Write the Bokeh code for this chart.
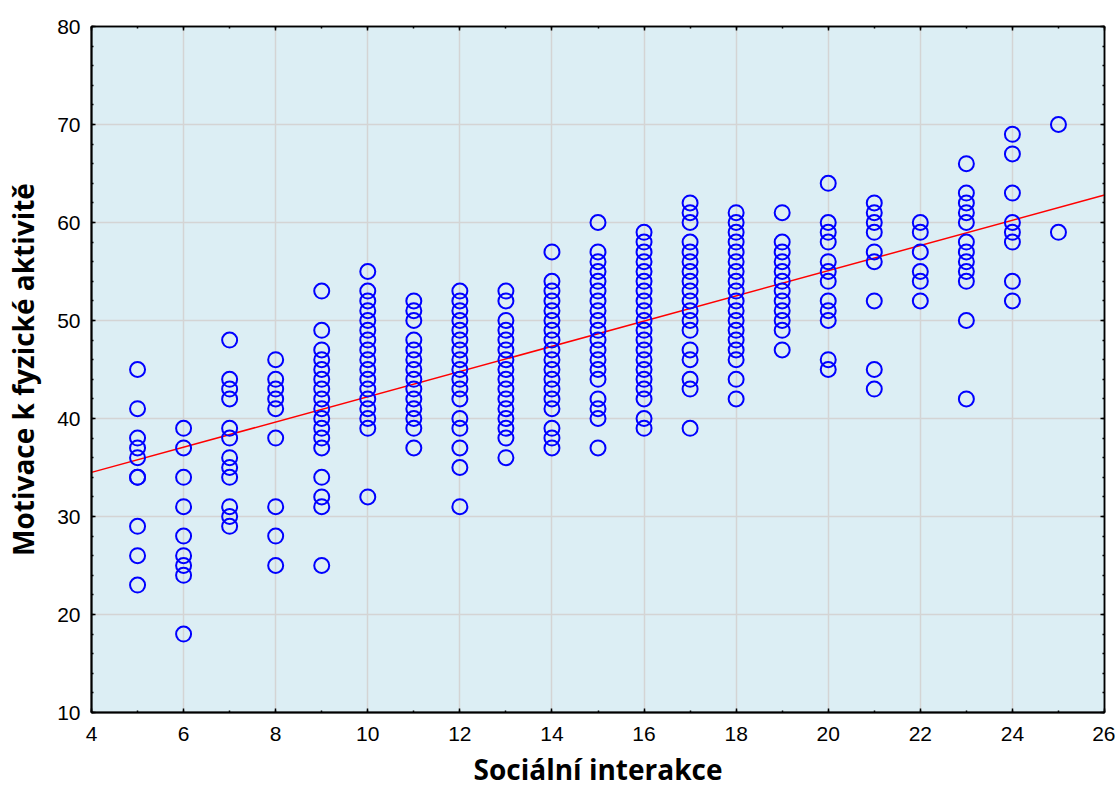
from bokeh.plotting import figure
from bokeh.models import LinearAxis, Range1d, FixedTicker, CustomJSTickFormatter
from bokeh.embed import file_html
from bokeh.resources import INLINE

# ---- data ----
y_at_5 = [45, 41, 38, 37, 36, 34, 34, 29, 26, 23]
y_at_6 = [39, 37, 34, 31, 28, 26, 25, 24, 18]
y_at_7 = [48, 44, 43, 42, 39, 38, 36, 35, 34, 31, 30, 29]
y_at_8 = [46, 44, 43, 42, 41, 38, 31, 28, 25]
y_at_9 = [53, 49, 47, 46, 45, 44, 43, 42, 41, 40, 39, 38, 37, 34, 32, 31, 25]
y_at_10 = [55, 53, 52, 51, 50, 49, 48, 47, 46, 45, 44, 43, 42, 41, 40, 39, 32]
y_at_11 = [52, 51, 50, 48, 47, 46, 45, 44, 43, 42, 41, 40, 39, 37]
y_at_12 = [53, 52, 51, 50, 49, 48, 47, 46, 45, 44, 43, 42, 40, 39, 37, 35, 31]
y_at_13 = [53, 52, 50, 49, 48, 47, 46, 45, 44, 43, 42, 41, 40, 39, 38, 36]
y_at_14 = [57, 54, 53, 52, 51, 50, 49, 48, 47, 46, 45, 44, 43, 42, 41, 39, 38, 37]
y_at_15 = [60, 57, 56, 55, 54, 53, 52, 51, 50, 49, 48, 47, 46, 45, 44, 42, 41, 40, 37]
y_at_16 = [59, 58, 57, 56, 55, 54, 53, 52, 51, 50, 49, 48, 47, 46, 45, 44, 43, 42, 40, 39]
y_at_17 = [62, 61, 60, 58, 57, 56, 55, 54, 53, 52, 51, 50, 49, 47, 46, 44, 43, 39]
y_at_18 = [61, 60, 59, 58, 57, 56, 55, 54, 53, 52, 51, 50, 49, 48, 47, 46, 44, 42]
y_at_19 = [61, 58, 57, 56, 55, 54, 53, 52, 51, 50, 49, 47]
y_at_20 = [64, 60, 59, 58, 56, 55, 54, 52, 51, 50, 46, 45]
y_at_21 = [62, 61, 60, 59, 57, 56, 52, 45, 43]
y_at_22 = [60, 59, 57, 55, 54, 52]
y_at_23 = [66, 63, 62, 61, 60, 58, 57, 56, 55, 54, 50, 42]
y_at_24 = [69, 67, 63, 60, 59, 58, 54, 52]
y_at_25 = [70, 59]

x_values = list(range(5, 26))
columns = [y_at_5, y_at_6, y_at_7, y_at_8, y_at_9, y_at_10, y_at_11, y_at_12,
           y_at_13, y_at_14, y_at_15, y_at_16, y_at_17, y_at_18, y_at_19,
           y_at_20, y_at_21, y_at_22, y_at_23, y_at_24, y_at_25]

# fitted regression line
fit_x = [4, 26]
fit_y = [34.5, 62.8]

x_ticks = [4, 6, 8, 10, 12, 14, 16, 18, 20, 22, 24, 26]
y_ticks = [10, 20, 30, 40, 50, 60, 70, 80]
x_minor = list(range(4, 27))
y_minor = list(range(10, 81, 2))

xs, ys = [], []
for xv, col in zip(x_values, columns):
    xs.extend([xv] * len(col))
    ys.extend(col)

# ---- figure ----
p = figure(width=1115, height=791, output_backend="svg", toolbar_location=None,
           x_range=Range1d(4, 26), y_range=Range1d(10, 80),
           min_border_left=91, min_border_right=11, min_border_top=26,
           min_border_bottom=79)

p.background_fill_color = "#DCEEF4"
p.border_fill_color = "white"
p.outline_line_color = "black"
p.outline_line_width = 1.5

p.xgrid.ticker = FixedTicker(ticks=x_ticks)
p.ygrid.ticker = FixedTicker(ticks=y_ticks)
for g in (p.xgrid, p.ygrid):
    g.grid_line_color = "#D4D4D4"
    g.grid_line_width = 1.5

label_font = "Open Sans"
tick_font = "Liberation Sans"

xa = p.xaxis[0]
ya = p.yaxis[0]
xa.ticker = FixedTicker(ticks=x_ticks, minor_ticks=x_minor)
ya.ticker = FixedTicker(ticks=y_ticks, minor_ticks=y_minor)
xa.axis_label = "Sociální interakce"
ya.axis_label = "Motivace k fyzické aktivitě"
for a in (xa, ya):
    a.axis_line_color = "black"
    a.axis_line_width = 2
    a.major_tick_in = 4
    a.major_tick_out = 0
    a.minor_tick_in = 2
    a.minor_tick_out = 0
    a.major_tick_line_color = "black"
    a.minor_tick_line_color = "black"
    a.major_tick_line_width = 1.5
    a.minor_tick_line_width = 1.5
    a.major_label_text_font = tick_font
    a.major_label_text_font_size = "21px"
    a.major_label_text_color = "black"
    a.axis_label_text_font = label_font
    a.axis_label_text_font_style = "bold"
    a.axis_label_text_font_size = "28px"
    a.axis_label_text_color = "black"
xa.major_label_standoff = 14
xa.axis_label_standoff = 6
ya.major_label_standoff = 11
ya.axis_label_standoff = 12

blank = CustomJSTickFormatter(code="return ''")
for loc, ticks, minor in (("right", y_ticks, y_minor), ("above", x_ticks, x_minor)):
    ax = LinearAxis(ticker=FixedTicker(ticks=ticks, minor_ticks=minor),
                    formatter=blank)
    ax.axis_line_color = "black"
    ax.axis_line_width = 1.5
    ax.major_tick_in = 4
    ax.major_tick_out = 0
    ax.minor_tick_in = 2
    ax.minor_tick_out = 0
    ax.major_tick_line_width = 1.5
    ax.minor_tick_line_width = 1.5
    ax.major_label_standoff = 0
    ax.major_label_text_font_size = "1px"
    p.add_layout(ax, loc)

p.line(fit_x, fit_y, line_color="#FF0000", line_width=1.5)
p.scatter(xs, ys, marker="circle", size=15, fill_color=None,
          line_color="#0000FF", line_width=2)

open("out.html", "w").write(file_html(p, INLINE))
